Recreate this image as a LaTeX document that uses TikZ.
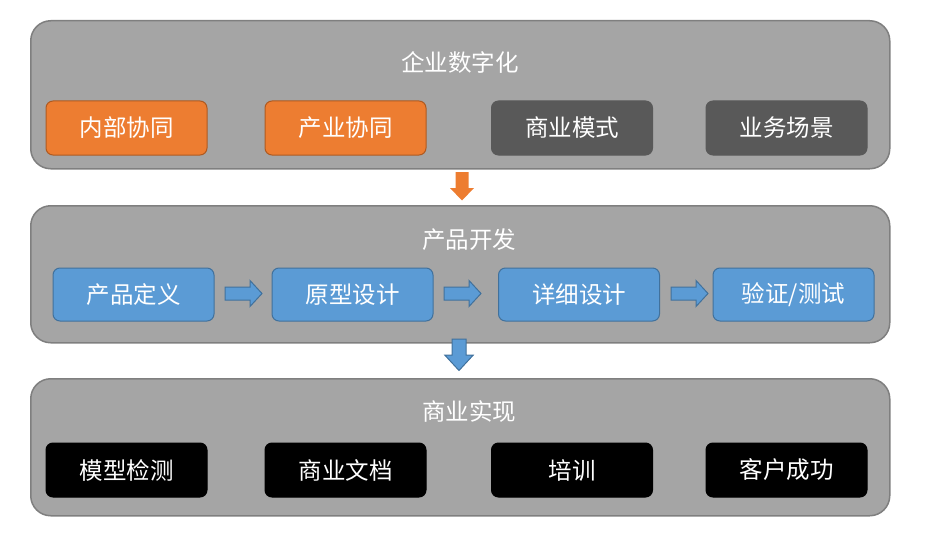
\documentclass[tikz,border=0pt]{standalone}
\usepackage{fontspec}
\setmainfont{Noto Sans CJK SC}
\definecolor{panelfill}{HTML}{A5A5A5}
\definecolor{paneldraw}{HTML}{7F7F7F}
\definecolor{orangefill}{HTML}{ED7D31}
\definecolor{orangedraw}{HTML}{AE5A21}
\definecolor{bluefill}{HTML}{5B9BD5}
\definecolor{bluedraw}{HTML}{41719C}
\definecolor{darkfill}{HTML}{595959}
\tikzset{
  panel/.style={draw=paneldraw, fill=panelfill, line width=1.5pt, rounded corners=20pt, minimum width=859pt, anchor=north west, inner sep=0pt},
  title/.style={text=white, font=\fontsize{23.5}{23.5}\selectfont},
  box/.style={rounded corners=7pt, minimum width=161pt, minimum height=54pt, inner sep=0pt, text=white, font=\fontsize{23.5}{23.5}\selectfont, line width=1pt},
  obox/.style={box, fill=orangefill, draw=orangedraw},
  dbox/.style={box, fill=darkfill, draw=darkfill},
  bbox/.style={box, fill=bluefill, draw=bluedraw, minimum height=53pt},
  kbox/.style={box, fill=black, draw=black},
  blockarrow/.style={fill=bluefill, draw=bluedraw, line width=1pt, line join=miter},
}
\begin{document}
\begin{tikzpicture}[x=1pt,y=-1pt]
\useasboundingbox (0,0) rectangle (927,543);
% panels
\node[panel, minimum height=148pt] (p1) at (30,20) {};
\node[panel, minimum height=137pt] (p2) at (30,205) {};
\node[panel, minimum height=137pt] (p3) at (30,378) {};
% titles
\node[title] (t1) at (460,62) {企业数字化};
\node[title] (t2) at (469,240) {产品开发};
\node[title] (t3) at (469,412) {商业实现};
% top boxes
\node[obox] (a1) at (126.5,128) {内部协同};
\node[obox] (a2) at (345.5,128) {产业协同};
\node[dbox] (a3) at (572,128) {商业模式};
\node[dbox] (a4) at (786.5,128) {业务场景};
% middle boxes
\node[bbox] (b1) at (133.5,294.5) {产品定义};
\node[bbox] (b2) at (352.5,294.5) {原型设计};
\node[bbox] (b3) at (579,294.5) {详细设计};
\node[bbox] (b4) at (793.5,294.5) {验证/测试};
% bottom boxes
\node[kbox] (c1) at (126.5,470) {模型检测};
\node[kbox] (c2) at (345.5,470) {商业文档};
\node[kbox] (c3) at (572,470) {培训};
\node[kbox] (c4) at (786.5,470) {客户成功};
% block arrows between middle boxes
\foreach \sx/\nm in {225/r1, 444/r2, 671/r3}{
  \draw[blockarrow] (\sx,287) -- ++(25,0) -- ++(0,-6.5) -- ++(12,13) -- ++(-12,13) -- ++(0,-6.5) -- ++(-25,0) -- cycle;
  \coordinate (\nm) at (\sx+18,293.5);
}
% down arrows
\fill[orangefill] (455.5,172) -- (468.5,172) -- (468.5,188) -- (474,188) -- (462,200.5) -- (450,188) -- (455.5,188) -- cycle;
\coordinate (d1) at (462,186);
\draw[blockarrow] (452,339) -- (466,339) -- (466,355) -- (473.3,355) -- (459,370.5) -- (444.7,355) -- (452,355) -- cycle;
\coordinate (d2) at (459,355);
\end{tikzpicture}
\end{document}
